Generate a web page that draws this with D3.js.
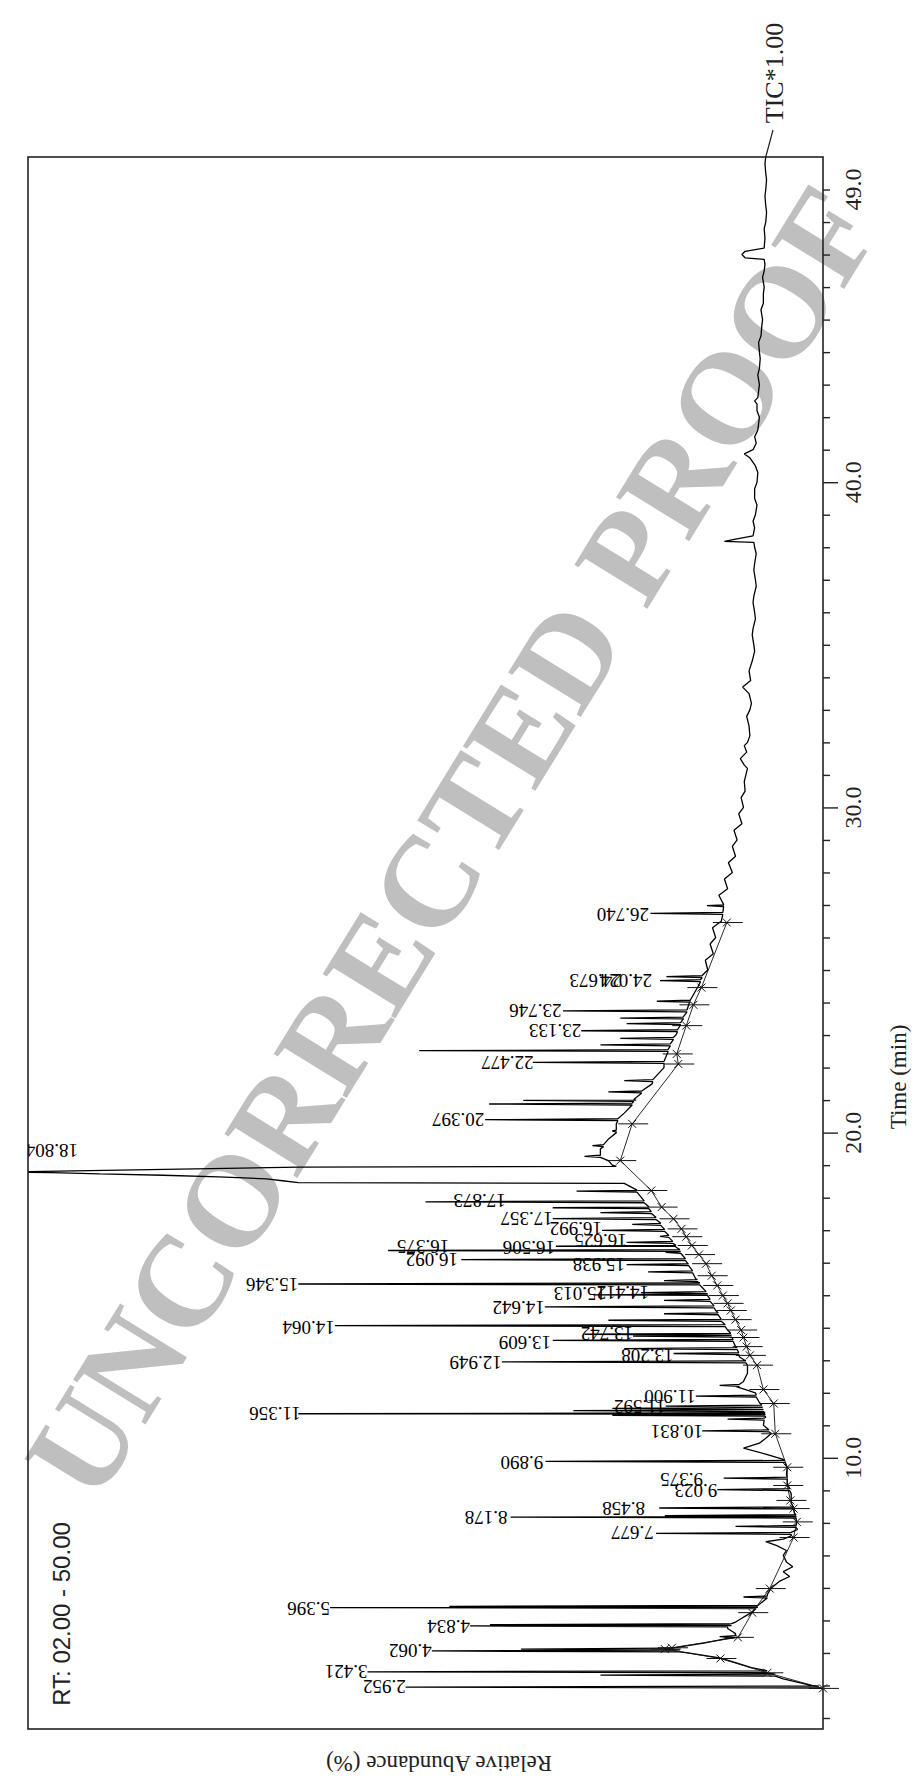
<!DOCTYPE html>
<html><head><meta charset="utf-8">
<script src="https://cdn.jsdelivr.net/npm/d3@7"></script>
<style>html,body{margin:0;padding:0;background:#fff}</style>
</head><body><div id="chart"></div>
<script>
// ---------- DATA ----------
// floor of the TIC trace: retention time (min) and relative abundance (%)
const floorTimes = [2.90,3.0,3.2,3.38,3.55,3.7,3.85,4.0,4.15,4.3,4.45,4.6,4.75,4.95,5.1,5.24,5.5,5.8,6.0,6.2,6.35,6.5,6.65,6.8,7.0,7.15,7.3,7.42,7.5,7.6,7.8,8.0,8.3,8.6,8.9,9.2,9.5,9.7,9.95,10.1,10.3,10.45,10.6,10.75,11.0,11.25,11.7,12.0,12.2,12.35,12.6,12.85,13.1,13.42,13.93,14.2,14.53,15.0,15.5,15.97,16.5,17.04,17.5,17.71,18.22,19.0,19.14,19.3,19.5,19.8,20.0,20.27,20.6,21.0,21.5,22.0,22.5,23.0,23.5,24.0,24.5,25.0,25.3,25.5,25.8,26.0,26.3,26.5,27.0,27.3,27.5,27.8,28.0,28.3,28.5,28.8,29.0,29.3,29.5,29.8,30.0,30.3,30.5,30.8,31.0,31.2,31.3,31.5,31.7,31.9,32.0,32.2,32.5,32.8,33.0,33.2,33.5,33.7,33.9,34.2,34.5,34.8,35.0,35.3,35.5,35.8,36.0,36.3,36.5,36.8,37.0,37.3,37.5,37.8,38.0,38.15,38.18,38.25,38.35,38.6,38.8,39.0,39.3,39.5,39.8,40.0,40.3,40.5,40.75,40.87,41.0,41.2,41.4,41.6,41.8,42.0,42.2,42.4,42.5,42.6,43.0,43.3,43.5,43.8,44.0,44.3,44.5,44.8,45.0,45.3,45.5,45.8,46.0,46.3,46.5,46.7,46.85,46.9,47.0,47.1,47.2,47.5,47.8,48.0,48.3,48.5,48.8,49.0,49.3,49.5,49.8,50.0];
const floorAbund = [0,1.5,5,7,9,11,13,17,19.5,15,12,11,12,11,10,9,8,7,6.5,5.5,4.2,5,3.8,4.6,5,4.6,5.8,7.2,5,4,3.2,3.3,3.6,4,4,4.5,4.6,4.5,5,7,10,8,7.2,6.5,7.5,7.2,8,8.5,11,10,9.5,9.5,10.5,11,12,12.8,13.5,14.5,16,17,18.5,20,21.5,22,23.5,26.5,27,28.5,28,27,26,26,25,23.5,21.5,20,19.5,18.5,17.5,16.8,15.7,14.5,14.8,13.8,14.2,13.5,13.9,12.8,12.5,13.1,12,12.4,11.4,11.9,11,11.4,10.8,11.2,10.2,10.6,10,10.3,9.8,9.9,9.7,9.5,9.9,10.4,9.6,9.9,9.5,9.2,9.3,9.6,9.2,9.0,9.3,10.1,9.1,9.3,8.9,8.6,8.7,8.9,8.8,8.5,8.6,8.8,8.7,8.4,8.5,8.7,8.6,8.4,8.6,8.7,12.4,11,8.8,8.6,8.8,8.5,8.3,8.6,8.6,8.3,8.2,8.5,9.2,9.9,8.8,8.4,8.6,8.2,8.1,8.0,8.3,8.3,8.6,8.2,8.0,8.2,8.0,7.9,8.0,8.1,7.8,7.7,7.6,7.8,7.5,7.5,7.4,7.6,7.4,7.3,7.4,9.8,10.2,9.8,7.4,7.3,7.4,7.2,7.1,7.2,7.3,7.2,7.1,7.2,7.3,7.2];

// main peak (18.804) drawn point by point: time (min), abundance (%)
const mainPeakTimes = [18.44,18.46,18.52,18.58,18.64,18.69,18.73,18.77,18.79,18.94,18.96];
const mainPeakAbund = [25,66,68,70,76,83,91,97,102,66,26];

// other peaks: apex time (min), apex abundance (%), abundance at the peak foot (%)
const peakTimes = [2.952,3.32,3.421,4.062,4.12,4.50,4.834,4.87,5.396,5.43,5.72,7.677,7.89,8.178,8.22,8.458,9.023,9.375,9.890,10.831,11.19,11.31,11.356,11.45,11.52,11.592,11.900,12.23,12.949,13.208,13.36,13.609,13.742,13.80,14.064,14.23,14.43,14.642,14.84,15.013,15.08,15.346,15.45,15.72,15.938,16.092,16.32,16.375,16.506,16.625,16.81,16.992,17.18,17.357,17.54,17.69,17.873,18.20,19.27,19.6,20.05,20.397,20.88,20.99,21.25,21.6,22.16,22.52,22.70,22.90,23.133,23.35,23.52,23.746,24.04,24.673,24.80,26.740,26.98];
const peakAbund = [52.5,28,57.3,49.2,38,13,44.4,41.9,62,47,10,21,11,39.3,19.9,20.6,13.3,12.5,34.9,15.2,12,26.5,66,31.4,26.5,19.8,16,13,40.4,18.8,25,34,23.9,30,61.4,27,20,35,20,28.9,22.9,66,20,22,24.7,45.5,19.8,54.7,33.6,24.7,20.5,27.8,24,34,28,34,50,31,30,29,26.5,42.5,42,37.7,27,25,36.5,50.8,28,25.5,30.4,24.7,25.5,32.7,20.9,20.5,19.7,21.7,14.6];
const peakBase = [0.5,6,7,18,19,11,12,11.5,8.5,8.2,7,4,3.4,3.4,3.4,3.7,4.2,4.5,4.8,6.8,7.4,7.3,7.3,7.5,7.6,7.7,8.4,10.5,9.7,10.6,10.8,11.3,11.5,11.6,12.3,12.8,13.2,13.7,14.2,14.5,14.7,15.5,15.8,16.4,16.9,17.3,17.9,18,18.5,18.9,19.4,19.9,20.4,21,21.6,21.9,22.5,23.4,28,27.6,26,25.8,24,23.8,22.8,21.4,20,19.5,19.2,18.8,18.3,17.9,17.6,17.1,16.7,15.4,15.2,12.6,12.5];

// peak labels: text, retention time of the label, abundance at the label's start
const labelTexts = ["2.952","3.421","4.062","4.834","5.396","7.677","8.178","8.458","9.023","9.375","9.890","10.831","11.356","11.592","11.900","12.949","13.208","13.609","13.742","14.064","14.642","15.013","14.412","15.346","15.938","16.092","16.375","16.506","16.625","16.992","17.357","17.873","18.804","20.397","22.477","23.133","23.746","24.024","24.673","26.740"];
const labelTimes = [2.96,3.42,4.09,4.80,5.37,7.69,8.18,8.44,9.01,9.32,9.86,10.80,11.36,11.59,11.89,12.94,13.15,13.56,13.82,14.02,14.61,15.05,15.07,15.34,15.95,16.10,16.50,16.48,16.69,17.05,17.36,17.91,19.45,20.39,22.16,23.13,23.75,24.67,24.67,26.72];
const labelAbund = [52.5,57.3,49.2,44.4,62,21.3,39.7,22.4,13.3,15.1,35.2,15.1,65.7,19.8,16.0,40.4,18.8,34.2,23.9,61.4,35,27.3,21.9,66,24.9,45.9,47,33.7,24.7,27.8,34,39.9,93.7,42.6,36.4,30.4,32.9,21.5,25.3,21.9];

// integration start/end markers (time, abundance)
const markTimes = [2.91,3.39,3.83,4.12,4.16,4.48,5.24,5.98,7.55,8.03,8.44,8.69,9.15,9.71,10.74,11.67,12.1,12.85,13.15,13.42,13.7,13.93,14.25,14.53,14.75,14.99,15.3,15.6,15.97,16.25,16.53,16.8,17.04,17.35,17.71,18.22,19.14,20.27,22.11,22.42,23.29,23.93,24.46,26.46];
const markAbund = [0,7,12.9,19.9,19,10.7,8.9,6.7,3.7,3.3,3.7,4.1,4.5,4.5,6.0,6.2,7.5,8.3,9.2,9.6,10,10.3,11,11.6,12,12.6,13.3,14,14.7,15.6,16.5,17.2,17.8,18.8,20.3,21.6,25.5,24,18.2,18.4,17.2,16.3,15.3,12.1];

// axis
const timeDomain = [2, 50];
const majorTicks = [10, 20, 30, 40];
const labeledTicks = [10, 20, 30, 40, 49];
const tickLabels = ["10.0", "20.0", "30.0", "40.0", "49.0"];
const rangeText = "RT: 02.00 - 50.00";
const traceText = "TIC*1.00";
const timeTitle = "Time (min)";
const abundTitle = "Relative Abundance (%)";
const watermark = "UNCORRECTED PROOF";

// ---------- LAYOUT ----------
const W = 915, H = 1786;
const L = 28, R = 823, T = 157, B = 1729;
const serif = "'Liberation Serif','Times New Roman',serif";
const sans = "'Liberation Sans',Arial,sans-serif";

const svg = d3.select("#chart").append("svg").attr("width", W).attr("height", H)
  .attr("viewBox", `0 0 ${W} ${H}`);
svg.append("rect").attr("width", W).attr("height", H).attr("fill", "#fff");

const yT = d3.scaleLinear().domain(timeDomain).range([1718, T]);
const xA = d3.scaleLinear().domain([0, 100]).range([R, L]);

// watermark (behind everything)
svg.append("text")
  .attr("transform", "translate(452,842) rotate(-58.4)")
  .attr("text-anchor", "middle")
  .attr("dy", "0.34em")
  .style("font-family", serif).style("font-weight", "bold").style("font-size", "130px")
  .attr("fill", "#bfbfbf")
  .text(watermark);

svg.append("defs").append("clipPath").attr("id", "plot")
  .append("rect").attr("x", L).attr("y", T).attr("width", R - L).attr("height", B - T);

// trace points
const pts = floorTimes.map((t, i) => [t, floorAbund[i]]);
mainPeakTimes.forEach((t, i) => pts.push([t, mainPeakAbund[i]]));
const dw = 0.03;
peakTimes.forEach((t, i) => {
  pts.push([t - dw, peakBase[i]], [t, peakAbund[i]], [t + dw, peakBase[i]]);
});
pts.sort((a, b) => a[0] - b[0]);

const line = d3.line().x(d => xA(d[1])).y(d => yT(d[0]));

const plot = svg.append("g").attr("clip-path", "url(#plot)");
plot.append("path").datum(pts).attr("d", line)
  .attr("fill", "none").attr("stroke", "#000").attr("stroke-width", 1.3)
  .attr("stroke-linejoin", "bevel");

// integration baseline
const marks = markTimes.map((t, i) => [t, markAbund[i]]);
svg.append("path").datum(marks).attr("d", line)
  .attr("fill", "none").attr("stroke", "#111").attr("stroke-width", 0.9);

// markers: cross + bar
const mg = svg.append("g").attr("stroke", "#111").attr("stroke-width", 1);
marks.forEach(d => {
  const x = xA(d[1]), y = yT(d[0]);
  mg.append("line").attr("x1", x - 14).attr("x2", x + 16).attr("y1", y).attr("y2", y);
  mg.append("line").attr("x1", x - 4).attr("x2", x + 4).attr("y1", y - 4).attr("y2", y + 4);
  mg.append("line").attr("x1", x - 4).attr("x2", x + 4).attr("y1", y + 4).attr("y2", y - 4);
});

// peak labels (upside down)
const lg = svg.append("g").attr("clip-path", "url(#plot)");
labelTexts.forEach((s, i) => {
  lg.append("text")
    .attr("transform", `translate(${xA(labelAbund[i])},${yT(labelTimes[i])}) rotate(180)`)
    .attr("text-anchor", "start")
    .attr("dominant-baseline", "central")
    .style("font-family", serif).style("font-size", "19px")
    .attr("fill", "#000")
    .text(s);
});

// frame
svg.append("rect").attr("x", L).attr("y", T).attr("width", R - L).attr("height", B - T)
  .attr("fill", "none").attr("stroke", "#222").attr("stroke-width", 1.6);

// time axis on the right
const axis = d3.axisRight(yT).tickValues(d3.range(2, 50)).tickSize(7).tickFormat("");
const ag = svg.append("g").attr("transform", `translate(${R},0)`).call(axis);
ag.select(".domain").remove();
ag.selectAll(".tick line").attr("stroke", "#222").attr("stroke-width", 1.4)
  .attr("x2", d => majorTicks.includes(d) ? 15 : 7);

labeledTicks.forEach((v, i) => {
  svg.append("text")
    .attr("transform", `translate(853,${yT(v)}) rotate(-90)`)
    .attr("text-anchor", "middle").attr("dominant-baseline", "central")
    .style("font-family", serif).style("font-size", "24px").attr("fill", "#222")
    .text(tickLabels[i]);
});

svg.append("text")
  .attr("transform", "translate(898,1077) rotate(-90)")
  .attr("text-anchor", "middle").attr("dominant-baseline", "central")
  .style("font-family", serif).style("font-size", "23px").attr("fill", "#222")
  .text(timeTitle);

svg.append("text")
  .attr("transform", "translate(439,1763) rotate(180)")
  .attr("text-anchor", "middle").attr("dominant-baseline", "central")
  .style("font-family", serif).style("font-size", "23px").attr("fill", "#222")
  .text(abundTitle);

svg.append("text")
  .attr("transform", "translate(61,1614) rotate(-90)")
  .attr("text-anchor", "middle").attr("dominant-baseline", "central")
  .style("font-family", sans).style("font-size", "24px").attr("fill", "#222")
  .text(rangeText);

// TIC label with leader line to the end of the trace
svg.append("text")
  .attr("transform", "translate(774,73) rotate(-90)")
  .attr("text-anchor", "middle").attr("dominant-baseline", "central")
  .style("font-family", serif).style("font-size", "26px").attr("fill", "#222")
  .text(traceText);
const lastT = floorTimes[floorTimes.length - 1], lastA = floorAbund[floorAbund.length - 1];
svg.append("line").attr("x1", 773).attr("y1", 130)
  .attr("x2", xA(lastA)).attr("y2", yT(lastT))
  .attr("stroke", "#222").attr("stroke-width", 1.2);
</script></body></html>
